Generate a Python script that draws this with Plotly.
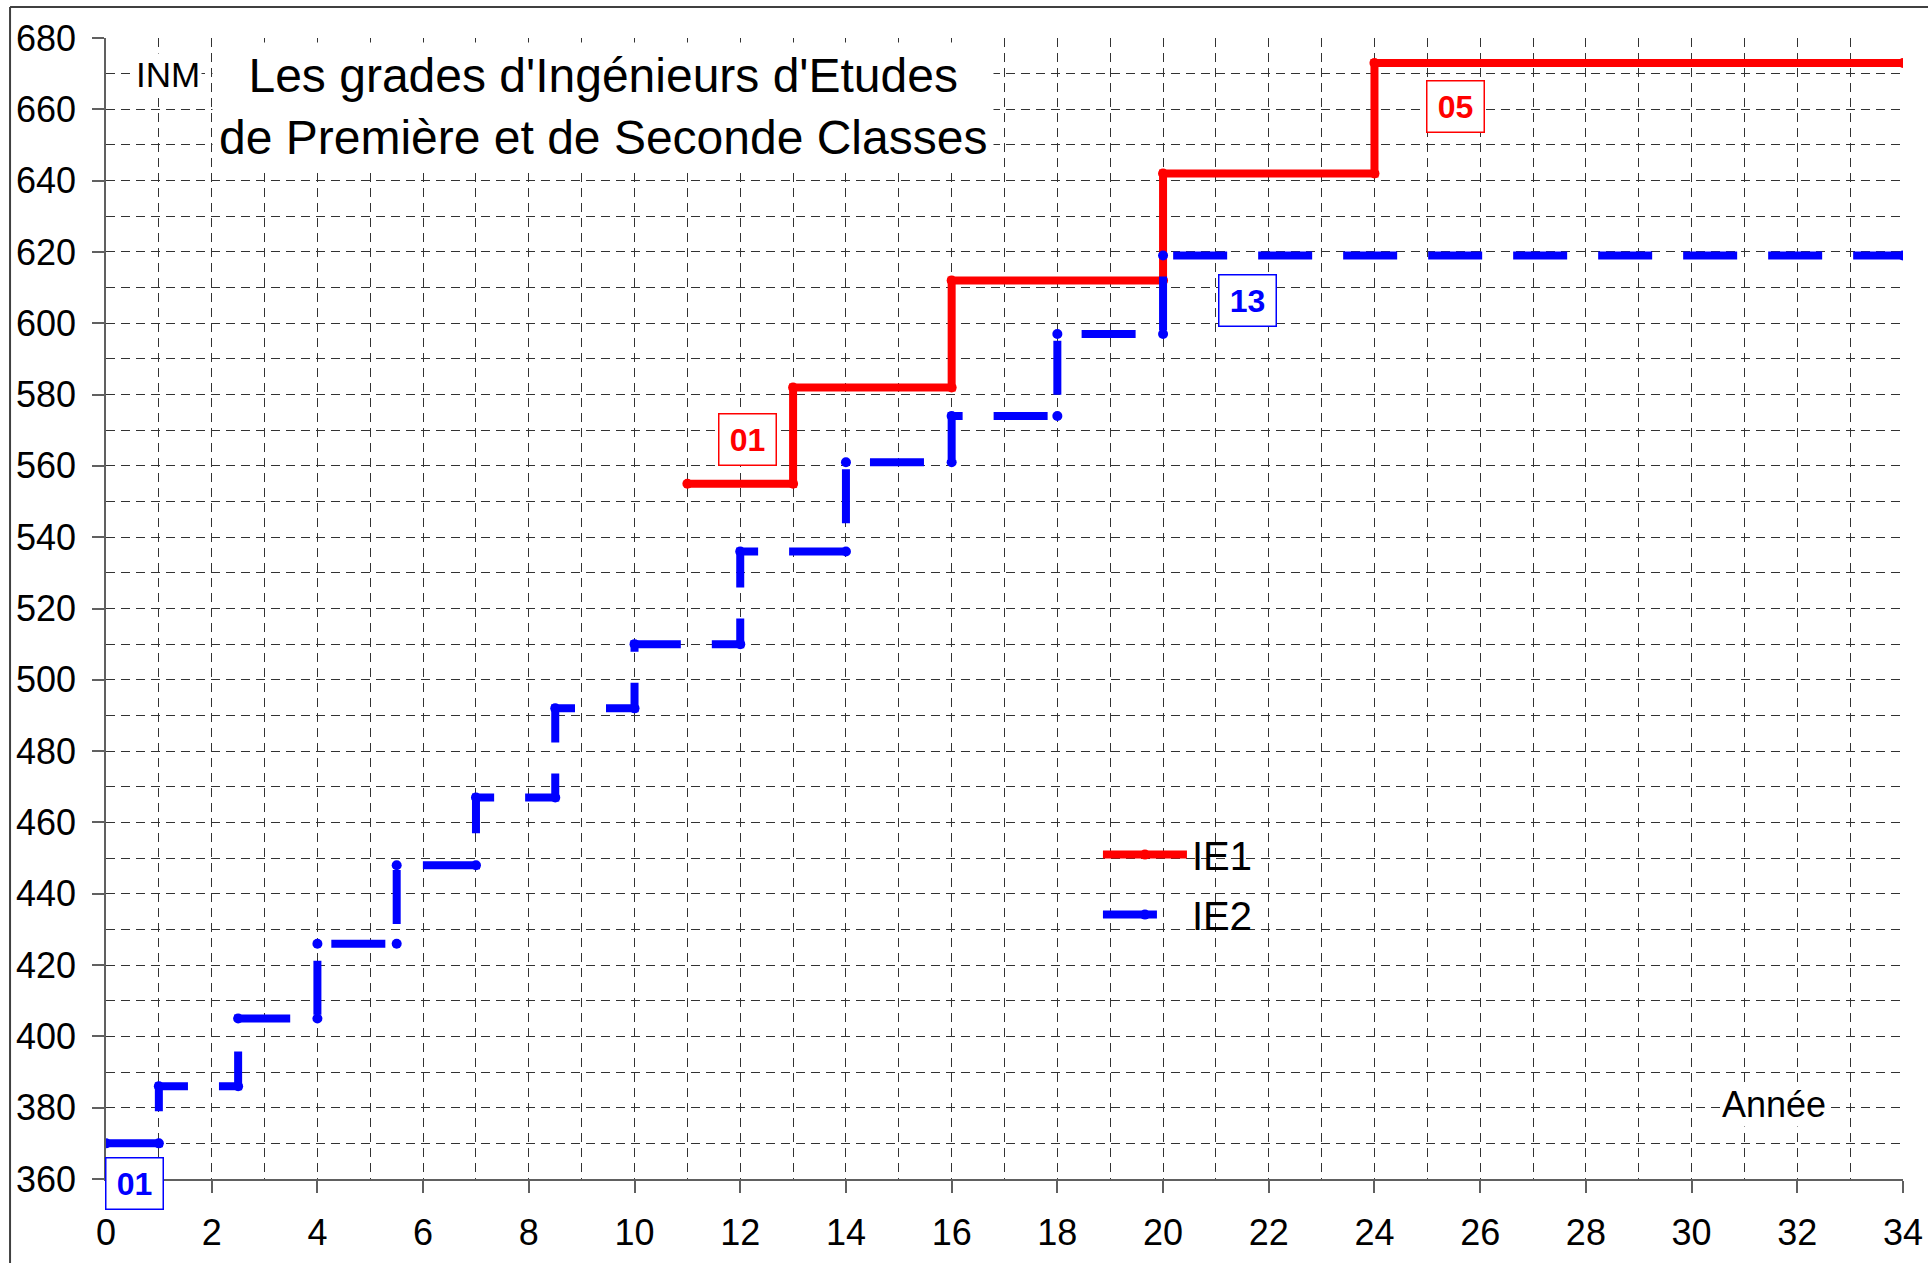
import plotly.graph_objects as go

# ---------------- data ----------------
ie1_years = [11, 13, 16, 20, 24, 34]          # step boundaries (years)
ie1_inm = [555, 582, 612, 642, 673]           # INM on each step

ie2_years = [0, 1, 2.5, 4, 5.5, 7, 8.5, 10, 12, 14, 16, 18, 20, 34]
ie2_inm = [370, 386, 405, 426, 448, 467, 492, 510, 536, 561, 574, 597, 619]

x_ticks = list(range(0, 35, 2))
y_ticks = list(range(360, 681, 20))
Y_MIN, Y_MAX = 360, 680

FONT = "Liberation Sans, Arial, sans-serif"
GRID = "#333333"


def corners(years, values):
    xs, ys = [], []
    for i, v in enumerate(values):
        xs += [years[i], years[i + 1]]
        ys += [v, v]
    return xs, ys


x1, y1 = corners(ie1_years, ie1_inm)
x2, y2 = corners(ie2_years, ie2_inm)

fig = go.Figure()
fig.add_trace(go.Scatter(
    x=x1, y=y1, name="IE1", mode="lines+markers", legendgroup="a",
    line=dict(color="#ff0000", width=8),
    marker=dict(color="#ff0000", size=10),
))
fig.add_trace(go.Scatter(
    x=x2, y=y2, name="IE2", mode="lines+markers", legendgroup="b",
    line=dict(color="#0000ff", width=8, dash="54px,31px"),
    marker=dict(color="#0000ff", size=10),
))

axis_common = dict(
    showline=True, linecolor="#606060", linewidth=1.5,
    ticks="outside", ticklen=12, tickcolor="#606060", tickwidth=1.5,
    showgrid=True, gridcolor=GRID, gridwidth=1, griddash="9px,6px",
    zeroline=False, mirror=False, automargin=False,
    tickfont=dict(family=FONT, size=36, color="black"),
)

fig.update_xaxes(
    range=[0, 34], tickmode="array", tickvals=x_ticks,
    ticktext=[str(v) for v in x_ticks],
    minor=dict(dtick=1, showgrid=True, gridcolor=GRID, gridwidth=1, griddash="9px,6px"),
    ticklabelstandoff=9,
    **axis_common,
)
fig.update_yaxes(
    range=[Y_MIN, Y_MAX], tickmode="array", tickvals=y_ticks,
    ticktext=[str(v) for v in y_ticks],
    minor=dict(dtick=10, showgrid=True, gridcolor=GRID, gridwidth=1, griddash="9px,6px"),
    ticklabelstandoff=9,
    **axis_common,
)

annotations = [
    dict(text="Les grades d'Ingénieurs d'Etudes<br>de Première et de Seconde Classes",
         xref="paper", yref="paper", x=0.2763, y=0.940, xanchor="center", yanchor="middle",
         showarrow=False, bgcolor="white", borderpad=6,
         font=dict(family=FONT, size=48, color="black")),
    dict(text="INM", xref="paper", yref="paper", x=0.0345, y=0.968,
         xanchor="center", yanchor="middle", showarrow=False, bgcolor="white",
         font=dict(family=FONT, size=35, color="black")),
    dict(text="Année", xref="paper", yref="paper", x=0.928, y=0.065,
         xanchor="center", yanchor="middle", showarrow=False, bgcolor="white",
         font=dict(family=FONT, size=36, color="black")),
]

label_boxes = [
    ("01", 0.53, 358.6, "#0000ff"),
    ("01", 12.13, 567.4, "#ff0000"),
    ("13", 21.59, 606.5, "#0000ff"),
    ("05", 25.54, 660.9, "#ff0000"),
]
for txt, lx, ly, col in label_boxes:
    # y given in paper units so labels just below the axis are not hidden
    annotations.append(dict(
        text="<b>%s</b>" % txt, xref="x", yref="paper", x=lx,
        y=(ly - Y_MIN) / (Y_MAX - Y_MIN),
        xanchor="center", yanchor="middle", showarrow=False,
        bgcolor="white", bordercolor=col, borderwidth=1.5, borderpad=0,
        width=56, height=50,
        font=dict(family=FONT, size=32, color=col),
    ))

shapes = [
    dict(type="line", xref="paper", yref="paper", x0=-0.0534, x1=1.03, y0=1.0272, y1=1.0272,
         line=dict(color="#404040", width=2)),
    dict(type="line", xref="paper", yref="paper", x0=-0.0534, x1=-0.0534, y0=1.0272, y1=-0.09,
         line=dict(color="#404040", width=2)),
]

fig.update_layout(
    width=1928, height=1263,
    margin=dict(l=106, r=25, t=38, b=84),
    paper_bgcolor="white", plot_bgcolor="white",
    font=dict(family=FONT, color="black"),
    showlegend=True,
    legend=dict(
        x=0.552, y=0.258, xanchor="left", yanchor="middle",
        bgcolor="rgba(0,0,0,0)", font=dict(family=FONT, size=40, color="black"),
        traceorder="grouped", tracegroupgap=5, itemwidth=84,
    ),
    annotations=annotations,
    shapes=shapes,
)

fig.write_html("out.html", config={"displayModeBar": False},
               post_script="document.body.style.margin='0';")
